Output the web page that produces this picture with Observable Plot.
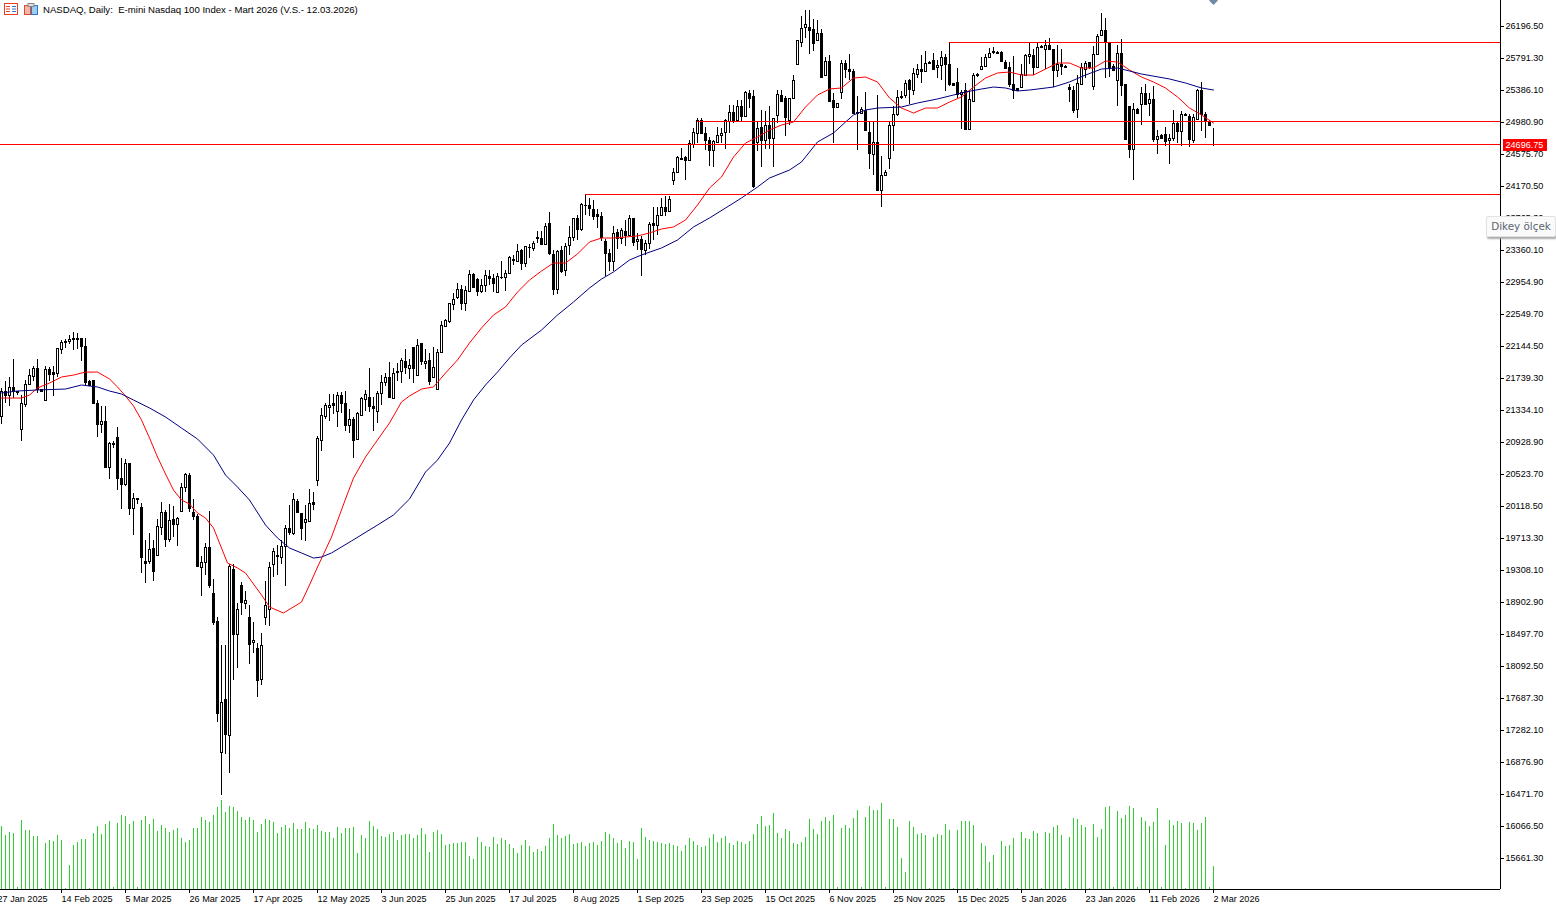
<!DOCTYPE html>
<html>
<head>
<meta charset="utf-8">
<script src="https://cdn.jsdelivr.net/npm/d3@7"></script>
<script src="https://cdn.jsdelivr.net/npm/@observablehq/plot@0.6"></script>
<style>
html,body{margin:0;padding:0;background:#fff;overflow:hidden}
#wrap{position:relative;width:1556px;height:909px;overflow:hidden}
#head{position:absolute;left:43px;top:4px;font:9.6px/12px "Liberation Sans",sans-serif;color:#000;white-space:pre}
#icons{position:absolute;left:4px;top:3px}
#tip{position:absolute;left:1486px;top:216px;width:68px;height:19px;background:#fafafa;border:1px solid #e2e2e2;border-radius:2px;box-shadow:1px 2px 2px #aaa;font:10.4px "DejaVu Sans",sans-serif;color:#5a6470;line-height:19px;text-align:center}
</style>
</head>
<body>
<div id="wrap">
<div id="chart"></div>
<svg id="icons" width="36" height="13" viewBox="0 0 36 13"><rect x="0.5" y="0.5" width="13" height="11" fill="#fff" stroke="#e8402a"/><path d="M2 3.5h4M2 6h4M2 8.5h4" stroke="#e8402a"/><path d="M8 3.5h4M8 6h4M8 8.5h4" stroke="#2f78c8"/><rect x="20.5" y="2.5" width="6" height="9" fill="#f4b5a5" stroke="#e0492f"/><rect x="27.5" y="2.5" width="6" height="9" fill="#9ecbf0" stroke="#2f78c8"/><rect x="24" y="0.5" width="6" height="3" fill="#ddd" stroke="#888"/></svg>
<div id="head">NASDAQ, Daily:  E-mini Nasdaq 100 Index - Mart 2026 (V.S.- 12.03.2026)</div>
<div id="tip">Dikey ölçek</div>
</div>
<script>
const opens=[21256,21573,21518,21623,21581,21096,21412,21665,21763,21868,
21602,21459,21847,21813,21805,22109,22193,22214,22235,22248,
22248,22142,21699,21720,21425,21151,21201,20615,20919,20995,
20476,20400,20665,20095,20222,20108,19424,19420,19589,19496,
19855,20044,19703,19956,19893,20053,20361,20517,20044,19998,
19348,19411,19601,19019,18665,17002,17677,17217,19327,18504,
19112,18888,18715,18394,18323,17922,18711,18816,19382,19483,
19475,19618,19842,19779,20188,20032,19914,19926,20171,20446,
20953,21257,21370,21417,21320,21518,21417,21143,21223,20961,
21269,21476,21493,21379,21320,21552,21691,21746,21484,21818,
21826,21949,21864,22134,21776,22177,21928,21961,21755,21603,
22071,22396,22459,22679,22763,22869,22691,22839,23050,22987,
22839,22919,23037,23008,22826,23012,23021,23071,23248,23219,
23354,23193,23396,23383,23527,23514,23442,23704,23312,22868,
23354,23105,23426,23523,23759,23632,23928,23936,23881,23818,
23793,23468,23324,23219,23590,23506,23603,23548,23759,23476,
23501,23366,23451,23704,23674,23797,23906,23852,24244,24350,
24518,24535,24497,24708,24843,25000,24843,24750,24632,24725,
24818,24852,24991,25105,25012,25189,25054,25350,25308,24729,
24919,24750,24949,24772,25075,25329,25279,25000,25287,25709,
25992,26182,26186,26161,26017,26110,25570,25747,25262,25165,
25359,25722,25654,25633,25089,25097,25131,24852,24570,24730,
24126,24304,24523,24941,25076,25295,25317,25511,25392,25595,
25654,25625,25730,25760,25671,25701,25806,25717,25469,25490,
25333,25384,24890,25245,25570,25646,25688,25802,25869,25869,
25869,25743,25680,25464,25409,25422,25582,25815,25831,25680,
25929,25903,25958,25907,25637,25717,25696,25426,25392,25148,
25464,25658,25743,25435,25836,26085,26152,25992,25688,25511,
25857,25456,25182,24641,25148,25207,25350,25224,25274,24768,
24810,24823,24751,24776,24962,24865,25084,25055,24759,25025,
25392,25088,24991,24705];
const highs=[21615,21699,21754,21974,21581,21518,21712,21847,21889,21974,
21602,21889,21881,21889,22121,22218,22227,22290,22328,22303,
22248,22248,21708,21720,21455,21383,21391,20927,20940,21121,
20729,20716,20665,20285,20222,20158,19694,19779,19694,19956,
20171,20074,20146,20116,19981,20412,20538,20538,20201,20011,
19483,19644,20053,19188,18715,18361,18361,19378,19378,18884,
19154,19040,18859,18652,18378,18513,19175,19411,19589,19631,
19694,19884,20137,20277,20201,20032,20137,20340,20294,21003,
21354,21425,21531,21531,21565,21560,21573,21341,21240,21307,
21497,21586,21860,21497,21581,21771,21805,21940,21860,21932,
21995,22101,21974,22134,22227,22177,22101,22058,22134,22101,
22459,22489,22691,22818,22936,22923,22902,23101,23071,23000,
22987,23113,23113,23050,23071,23227,23113,23282,23303,23430,
23375,23417,23430,23472,23599,23599,23704,23843,23354,23354,
23409,23451,23662,23767,23797,23957,24071,24020,23987,23881,
23843,23501,23375,23662,23628,23641,23746,23809,23767,23577,
23535,23493,23717,23906,23906,24020,24041,24050,24400,24548,
24653,24556,24759,24907,25033,25033,24919,24793,24750,24915,
24907,25025,25202,25202,25265,25265,25371,25392,25392,24978,
25130,25118,25181,25033,25392,25392,25308,25287,25570,26013,
26321,26393,26405,26279,26270,26161,25806,25823,25350,25224,
25772,25772,25836,25646,25308,25169,25363,24991,24991,25317,
24548,24367,24991,25181,25384,25371,25519,25528,25667,25709,
25823,25878,25748,25857,25772,25878,25836,25996,25477,25667,
25392,25469,25392,25604,25604,25806,25836,25920,25933,25878,
25878,25772,25739,25815,25409,25709,25848,25992,25899,25983,
25954,26017,26047,25907,25962,25899,25700,25456,25435,25582,
25730,25751,25743,25941,26089,26355,26300,25992,25709,25950,
26038,25456,25182,25224,25161,25426,25456,25350,25435,24878,
24823,24920,24823,25131,24991,25118,25090,25076,25076,25405,
25490,25105,25004,24907];
const lows=[21151,21425,21391,21488,21530,20940,21374,21657,21699,21552,
21573,21459,21699,21509,21754,22037,22121,22176,22100,22109,
21953,21657,21649,21404,20995,21045,20594,20463,20855,20319,
20083,20370,19999,19757,20146,19272,19146,19378,19167,19496,
19745,19601,19660,19728,19610,20053,20298,20044,19939,19357,
18977,19251,19074,18610,17382,16457,16972,16740,17913,18061,
18736,18808,18112,18251,17698,17858,18618,18597,19217,19251,
19378,19103,19745,19745,20032,19682,19673,19914,20074,20370,
20814,21214,21193,21278,21117,21299,21067,21037,20721,20953,
21269,21320,21307,21067,21164,21392,21636,21497,21468,21700,
21678,21784,21721,21678,21763,21898,21856,21645,21742,21603,
22067,22383,22438,22599,22742,22599,22586,22831,22881,22776,
22818,22826,22911,22831,22810,22995,22839,23063,23176,23206,
23101,23143,23261,23345,23451,23430,23430,23303,22784,22809,
23071,23037,23303,23472,23493,23599,23797,23788,23738,23641,
23472,23029,23092,23092,23375,23442,23409,23535,23409,23358,
23029,23295,23375,23493,23548,23788,23788,23852,24189,24337,
24497,24244,24497,24653,24717,24831,24632,24421,24413,24717,
24717,24641,24843,24970,24991,24983,25046,25160,24147,24611,
24413,24641,24641,24413,24970,25253,24802,24937,25279,25701,
25933,26047,25848,25878,26009,25540,25561,25253,24709,25156,
25274,25540,25519,25076,24624,25076,24865,24388,24308,24105,
23907,24295,24380,24612,25055,25266,25287,25203,25329,25540,
25477,25612,25725,25646,25540,25519,25371,25443,25443,25287,
24894,24886,24886,25245,25553,25637,25688,25785,25836,25848,
25743,25667,25426,25274,25371,25414,25561,25709,25582,25667,
25912,25646,25899,25426,25553,25582,25670,25232,25089,25029,
25456,25540,25646,25392,25827,26068,25540,25549,25625,25182,
25308,24768,24527,24245,25089,24949,25190,25055,24726,24570,
24772,24675,24443,24738,24717,24675,25066,24667,24709,25021,
24865,24772,24928,24683];
const closes=[21573,21530,21623,21573,21560,21417,21665,21771,21868,21602,
21573,21847,21784,21784,22113,22197,22214,22235,22248,22235,
22142,21687,21657,21417,21151,21197,20611,20919,20898,20476,
20400,20665,20096,20222,20209,19471,19395,19576,19293,19871,
20044,19703,19943,19893,19968,20361,20526,20095,19990,19357,
19411,19601,19112,18648,17500,17639,17226,19365,18500,18816,
18901,18930,18365,18424,17913,18361,18859,19348,19551,19500,
19618,19842,19787,20209,20040,19846,19956,20158,20141,20974,
21265,21400,21400,21396,21518,21421,21143,21214,20953,21290,
21480,21531,21383,21354,21552,21691,21755,21505,21805,21826,
21961,21877,21906,21864,22160,21953,21953,21700,21881,22071,
22413,22476,22683,22742,22869,22687,22856,23059,22894,22839,
22911,23042,23008,22945,23037,23021,23071,23273,23231,23350,
23193,23413,23404,23451,23510,23442,23658,23324,22868,23345,
23092,23409,23527,23767,23620,23945,23936,23894,23788,23788,
23527,23324,23219,23577,23506,23611,23548,23767,23463,23501,
23379,23451,23691,23674,23801,23906,23852,24008,24350,24544,
24527,24497,24717,24856,25000,24839,24750,24632,24734,24818,
24843,25012,25105,24991,25189,25054,25358,25286,24168,24907,
24759,24949,24780,25033,25337,25253,25042,25279,25519,26013,
26177,26224,26140,25979,26110,25553,25747,25253,25169,25224,
25722,25646,25625,25089,25105,25148,24878,24590,24730,24126,
24316,24354,24949,25084,25300,25308,25477,25401,25604,25658,
25625,25730,25743,25658,25705,25806,25709,25456,25447,25338,
25367,24890,25266,25578,25591,25692,25802,25857,25882,25857,
25751,25667,25464,25384,25380,25591,25823,25844,25680,25933,
25937,25958,25903,25637,25717,25688,25675,25401,25131,25477,
25675,25730,25675,25848,26076,26144,26004,25667,25637,25857,
25447,24768,24633,25148,25097,25350,25215,25274,24768,24806,
24776,24738,24781,24962,24865,25084,25072,24768,25038,25392,
25076,25004,24949,24696.75];
const volumes=[189,162,172,168,5,207,177,177,159,159,
2,138,147,145,162,147,2,72,132,141,
150,150,3,168,189,165,195,204,6,198,
222,219,195,204,6,207,219,195,210,174,
192,183,171,177,183,153,141,147,183,183,
216,207,201,222,246,267,231,249,246,234,
216,207,216,207,171,195,210,207,201,168,
186,192,183,198,180,180,201,183,180,192,
174,171,171,153,186,168,183,183,186,108,
162,153,204,189,180,159,156,165,171,147,
162,165,165,153,162,183,165,111,171,177,
165,132,135,138,138,141,141,99,90,156,
141,129,126,156,135,153,147,135,123,108,
132,147,129,111,120,114,129,153,195,162,
153,159,165,135,138,141,129,138,141,132,
144,171,165,153,138,147,123,144,141,90,
183,156,147,144,141,138,135,138,132,129,
114,132,153,144,132,126,129,153,165,141,
153,159,138,132,144,141,135,144,165,195,
219,189,192,228,168,153,180,174,138,135,
141,156,210,180,165,204,216,204,222,6,
183,192,183,213,237,6,216,249,237,237,
258,6,210,210,186,93,51,204,186,165,
168,162,3,156,165,162,195,177,3,177,
204,204,204,192,3,138,129,81,102,3,
144,129,132,153,3,171,153,150,174,168,
3,171,168,186,192,162,3,156,213,210,
192,186,3,195,156,180,246,249,6,234,
213,222,249,243,6,216,204,189,201,243,
6,132,207,192,204,198,3,201,198,177,
198,216,6,69];
const fastIdx=[0,5,7,9,12,15,18,21,24,27,29,31,33,35,37,39,41,43,45,47,49,51,53,55,56.5,59,61,63,65,67,70.5,75,77,79,81,82.5,86,88,91,94,97,100,102,105,108,111,114,117,120,123,126,129,132,135,138,141,144,147,150,153,156,159,162,165,168,171,174,177,180,183,186,189,192,195,198,201,204,207,210,213,216,219,222,225,228,231,234,237,240,243,246,249,252,255,258,261,264,267,270,273,276,279,282,285,288,291,294,297,300,303];
const fastMA=[21492,21492,21530,21619,21682,21758,21783,21821,21821,21733,21632,21518,21391,21214,20986,20745,20530,20327,20201,20150,20036,19973,19846,19593,19403,19340,19276,19137,18998,18846,18770,18909,19124,19352,19568,19732,20213,20479,20745,20961,21176,21442,21518,21606,21632,21809,21974,22189,22379,22543,22645,22834,22986,23100,23202,23202,23316,23468,23518,23518,23531,23544,23582,23632,23658,23746,23936,24151,24291,24544,24721,24797,24886,24949,24987,25177,25329,25405,25418,25544,25557,25494,25291,25164,25101,25164,25164,25240,25304,25430,25544,25608,25620,25582,25582,25658,25734,25734,25671,25671,25760,25747,25646,25557,25494,25418,25304,25164,25076,24974];
const slowIdx=[0,4,9,16,20,24,27,30,33,37,41,45,49,53,56,59,62,66,69,72,75,78,80,82.5,87.5,94,98,102,106,109,112,115,118,121,124,127,130,135,139,143,147,150,153,157,160,165,169,173,177,181,185,189,192,197,200,204,208,211,213,216,219,225,229,234,238,241,245,248,251,254,257,263,267,271,275,279,282,285,292,296,300,303];
const slowMA=[21556,21581,21594,21606,21657,21632,21581,21543,21467,21366,21252,21112,20973,20770,20517,20365,20201,19884,19720,19593,19530,19466,19479,19530,19682,19884,20011,20213,20555,20707,20922,21214,21467,21657,21821,21999,22163,22353,22543,22708,22885,22999,23088,23240,23303,23392,23493,23658,23772,23898,24025,24164,24278,24379,24481,24734,24848,24987,25076,25139,25164,25177,25228,25279,25329,25367,25405,25430,25418,25380,25392,25430,25494,25582,25658,25671,25633,25595,25532,25481,25418,25392];
const levelValues=[25994,24994,24696.75,24069];
const levelStarts=[237,174,-0.25,146];
const priceTicks=[26196.5,25791.3,25386.1,24980.9,24575.7,24170.5,23765.3,23360.1,22954.9,22549.7,22144.5,21739.3,21334.1,20928.9,20523.7,20118.5,19713.3,19308.1,18902.9,18497.7,18092.5,17687.3,17282.1,16876.9,16471.7,16066.5,15661.3];
const dateLabels=["27 Jan 2025","14 Feb 2025","5 Mar 2025","26 Mar 2025","17 Apr 2025","12 May 2025","3 Jun 2025","25 Jun 2025","17 Jul 2025","8 Aug 2025","1 Sep 2025","23 Sep 2025","15 Oct 2025","6 Nov 2025","25 Nov 2025","15 Dec 2025","5 Jan 2026","23 Jan 2026","11 Feb 2026","2 Mar 2026"];
const dateBars=dateLabels.map((_,k)=>-1+16*k);
const dateText=new Map(dateBars.map((b,k)=>[b,dateLabels[k]]));
const lastPrice=closes[closes.length-1];

const bars=d3.range(opens.length);
const bull=i=>closes[i]>=opens[i];
const volBase=15268.6, volUnit=4.2208;
const font='"Liberation Sans",sans-serif';
const labelSize=9.1;

const plot=Plot.plot({
  width:1556,height:909,
  marginLeft:0,marginRight:56,marginTop:0,marginBottom:20,
  style:{background:"#fff",fontFamily:font,fontSize:labelSize+"px",color:"#000"},
  x:{domain:[-0.25,374.75],range:[0,1500]},
  y:{domain:[15015.6,26525.7],range:[909,0]},
  marks:[
    Plot.ruleX(bars,{x:i=>i,y1:volBase,y2:i=>volBase+volumes[i]*volUnit,stroke:"#32cd32",strokeWidth:1,shapeRendering:"crispEdges"}),
    Plot.ruleX(bars,{x:i=>i,y1:i=>lows[i],y2:i=>highs[i],stroke:"#000",strokeWidth:1,shapeRendering:"crispEdges"}),
    Plot.rect(bars,{x1:i=>i-0.25,x2:i=>i+0.25,y1:i=>opens[i],y2:i=>closes[i],fill:i=>bull(i)?"#fff":"#000",stroke:"#000",strokeWidth:1,dx:0.5,dy:0.5,shapeRendering:"crispEdges"}),
    Plot.line(d3.range(fastIdx.length),{x:k=>fastIdx[k],y:k=>fastMA[k],stroke:"#ff0000",strokeWidth:1,curve:"linear"}),
    Plot.line(d3.range(slowIdx.length),{x:k=>slowIdx[k],y:k=>slowMA[k],stroke:"#000080",strokeWidth:1,curve:"linear"}),
    Plot.ruleY(levelValues,{y:d=>d,x1:(d,k)=>levelStarts[k],x2:374.75,stroke:"#ff0000",strokeWidth:1,shapeRendering:"crispEdges"}),
    Plot.ruleX([374.75],{x:d=>d,y1:volBase,y2:26525.7,stroke:"#000",strokeWidth:1,shapeRendering:"crispEdges"}),
    Plot.ruleY([volBase],{y:d=>d,x1:-0.25,x2:374.75,stroke:"#000",strokeWidth:1,shapeRendering:"crispEdges"}),
    Plot.axisY(priceTicks,{anchor:"right",tickSize:3,tickPadding:2,label:null,tickFormat:d=>d.toFixed(2),fontSize:labelSize,fontFamily:font}),
    Plot.axisX(dateBars,{anchor:"bottom",tickSize:4,tickPadding:2,label:null,tickFormat:d=>dateText.get(d),textAnchor:"start",fontSize:labelSize,fontFamily:font}),
    Plot.ruleY([lastPrice],{y:d=>d,x1:375.5,x2:386.5,stroke:"#ff0000",strokeWidth:12,shapeRendering:"crispEdges"}),
    Plot.text([lastPrice],{x:376,y:d=>d,text:d=>d.toFixed(2),fill:"#fff",textAnchor:"start",fontSize:labelSize,fontFamily:font}),
    Plot.dot([303],{x:d=>d,y:26525.7,symbol:"diamond2",r:4,fill:"#6f8aa5"})
  ]
});
document.getElementById("chart").appendChild(plot);
</script>
</body>
</html>
